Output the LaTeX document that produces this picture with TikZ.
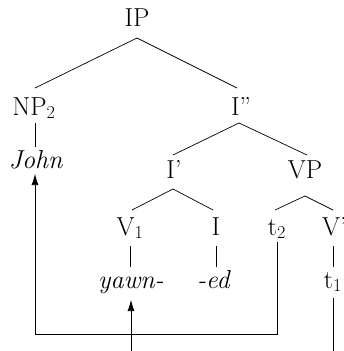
\RequirePackage{fix-cm}
\documentclass[tikz,border=0pt]{standalone}
\usetikzlibrary{calc,arrows.meta}
\begin{document}
\begin{tikzpicture}[x=1pt,y=-1pt,
  lbl/.style={anchor=base,inner sep=0pt,font=\fontsize{26}{31}\selectfont},
  edge/.style={line width=0.7pt},
  arr/.style={line width=0.7pt,-{Latex[length=11pt,width=7pt]}}]
\useasboundingbox (0,0) rectangle (343,351);
\clip (0,0) rectangle (343,351);
% nodes
\node[lbl] (IP) at (137,26) {IP};
\node[lbl] (NP) at (34,115) {NP$_2$};
\node[lbl] (Ibb) at (241,115) {I''};
\node[lbl] (John) at (36,168) {\textit{John}};
\node[lbl] (Ib) at (174,178) {I'};
\node[lbl] (VP) at (305,178) {VP};
\node[lbl] (V1) at (130,235) {V$_1$};
\node[lbl] (I) at (216,235) {I};
\node[lbl] (t2) at (277,235) {t$_2$};
\node[lbl] (Vb) at (334.5,235) {V'};
\node[lbl] (yawn) at (131,288) {\textit{yawn-}};
\node[lbl] (ed) at (214,288) {\textit{-ed}};
\node[lbl] (t1) at (333,288) {t$_1$};
% tree edges
\draw[edge] ($(NP.base)+(1,-27)$) -- ($(IP.base)+(0,12)$) -- ($(Ibb.base)+(-4,-27)$);
\draw[edge] ($(NP.base)+(1,8)$) -- ($(John.base)+(-1,-21)$);
\draw[edge] ($(Ib.base)+(-1,-23)$) -- ($(Ibb.base)+(-2,8)$) -- ($(VP.base)+(2,-23)$);
\draw[edge] ($(V1.base)+(2,-25)$) -- ($(Ib.base)+(-1,11)$) -- ($(I.base)+(-3,-25)$);
\draw[edge] ($(t2.base)+(-2,-25)$) -- ($(VP.base)+(0,18)$) -- ($(Vb.base)+(-1.5,-25)$);
\draw[edge] ($(V1.base)+(0,11)$) -- ($(yawn.base)+(-1,-21)$);
\draw[edge] ($(I.base)+(0,11)$) -- ($(ed.base)+(2,-21)$);
\draw[edge] ($(Vb.base)+(-1.5,11)$) -- ($(t1.base)+(0,-21)$);
% movement paths
\coordinate (bend) at (0,334);
\coordinate (bottom) at (0,351);
\coordinate (t2s) at ($(t2.base)+(0,7)$);
\coordinate (Js) at ($(John.base)+(-1,6)$);
\draw[arr] (t2s) -- (t2s |- bend) -- (Js |- bend) -- (Js);
\coordinate (ys) at ($(yawn.base)+(0,12)$);
\draw[arr] (ys |- bottom) -- (ys);
\coordinate (t1s) at ($(t1.base)+(0,10)$);
\draw[edge] (t1s) -- (t1s |- bottom);
\end{tikzpicture}
\end{document}
